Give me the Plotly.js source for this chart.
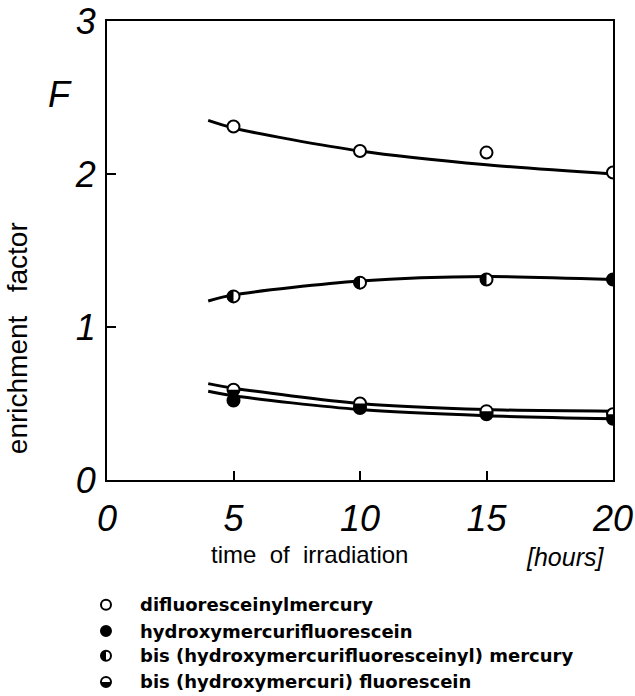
<!DOCTYPE html>
<html><head><meta charset="utf-8">
<script src="https://cdn.plot.ly/plotly-3.0.1.min.js"></script>
<style>html,body{margin:0;padding:0;background:#fff}</style>
</head><body><div id="chart" style="width:635px;height:696px"></div>
<script>
// ---- data ----
const hours = [5, 10, 15, 20];
const difluoresceinyl = [2.31, 2.15, 2.14, 2.01];      // open circles
const bisFluoresceinyl = [1.20, 1.29, 1.31, 1.31];     // left-half filled
const bisHydroxymercuri = [0.59, 0.50, 0.45, 0.43];    // bottom-half filled
const hydroxymercuri = [0.52, 0.47, 0.43, 0.40];       // filled circles

const curveHours = [4, 5, 10, 15, 20];
const difluoresceinylCurve = [2.35, 2.30, 2.15, 2.06, 2.00];
const bisFluoresceinylCurve = [1.17, 1.21, 1.30, 1.33, 1.31];
const bisHydroxymercuriCurve = [0.63, 0.60, 0.50, 0.46, 0.45];
const hydroxymercuriCurve = [0.58, 0.55, 0.46, 0.42, 0.40];

const xTicks = [0, 5, 10, 15, 20];
const yTicks = [0, 1, 2, 3];
const legendLabels = [
  'difluoresceinylmercury',
  'hydroxymercurifluorescein',
  'bis (hydroxymercurifluoresceinyl) mercury',
  'bis (hydroxymercuri) fluorescein'
];
const legendKinds = ['open', 'filled', 'left', 'bottom'];

// ---- helpers ----
const R = 6;
function halfPath(kind, r) {
  // pixel path relative to anchor (y positive up)
  const p = [];
  const n = 20;
  let a0, a1;
  if (kind === 'left') { a0 = Math.PI / 2; a1 = 3 * Math.PI / 2; }
  else { a0 = Math.PI; a1 = 2 * Math.PI; }
  for (let i = 0; i <= n; i++) {
    const a = a0 + (a1 - a0) * i / n;
    p.push((r * Math.cos(a)).toFixed(2) + ',' + (r * Math.sin(a)).toFixed(2));
  }
  return 'M' + p.join(' L') + ' Z';
}
function halfShapes(xs, ys, kind, xref, yref, r) {
  return xs.map((x, i) => ({
    type: 'path', layer: 'above', xref: xref, yref: yref,
    xsizemode: 'pixel', ysizemode: 'pixel', xanchor: x, yanchor: ys[i],
    path: halfPath(kind, r), fillcolor: '#000', line: {width: 0}
  }));
}
function circleShape(x, y, r, filled) {
  return {
    type: 'circle', layer: 'above', xref: 'paper', yref: 'paper',
    xsizemode: 'pixel', ysizemode: 'pixel', xanchor: x, yanchor: y,
    x0: -r, x1: r, y0: -r, y1: r,
    fillcolor: filled ? '#000' : '#fff', line: {color: '#000', width: 2}
  };
}

const lineStyle = {color: '#000', width: 3, shape: 'spline', smoothing: 0.8};
function curve(y) { return {x: curveHours, y: y, mode: 'lines', line: lineStyle, hoverinfo: 'skip'}; }
function pts(y, fill) {
  return {x: hours, y: y, mode: 'markers',
    marker: {symbol: 'circle', size: 2 * R, color: fill, line: {color: '#000', width: 2}}};
}

const traces = [
  curve(difluoresceinylCurve),
  curve(bisFluoresceinylCurve),
  curve(bisHydroxymercuriCurve),
  curve(hydroxymercuriCurve),
  pts(difluoresceinyl, '#fff'),
  pts(hydroxymercuri, '#000'),
  pts(bisFluoresceinyl, '#fff'),
  pts(bisHydroxymercuri, '#fff')
];

// legend placement (paper coords)
const legendY = [-0.272, -0.329, -0.383, -0.440];
const legendSymX = -0.002;
const legendTextX = 0.062;

let shapes = [];
shapes = shapes.concat(halfShapes(hours, bisFluoresceinyl, 'left', 'x', 'y', R));
shapes = shapes.concat(halfShapes(hours, bisHydroxymercuri, 'bottom', 'x', 'y', R));
legendKinds.forEach((k, i) => {
  shapes.push(circleShape(legendSymX, legendY[i], 5, k === 'filled'));
  if (k === 'left' || k === 'bottom') {
    shapes = shapes.concat(halfShapes([legendSymX], [legendY[i]], k, 'paper', 'paper', 5));
  }
});

const SANS = 'Liberation Sans, Arial, sans-serif';
const tickFont = {family: SANS, size: 36, style: 'italic', color: '#000'};
const annotations = [
  {text: 'F', xref: 'paper', yref: 'paper', x: -0.093, y: 0.84, showarrow: false,
   font: tickFont, xanchor: 'center', yanchor: 'middle'},
  {text: 'enrichment   factor', xref: 'paper', yref: 'paper', x: -0.177, y: 0.31, showarrow: false,
   textangle: -90, font: {family: SANS, size: 28, color: '#000'},
   xanchor: 'center', yanchor: 'middle'},
  {text: 'time  of  irradiation', xref: 'paper', yref: 'paper', x: 0.401, y: -0.162, showarrow: false,
   font: {family: SANS, size: 24, color: '#000'},
   xanchor: 'center', yanchor: 'middle'},
  {text: '[hours]', xref: 'paper', yref: 'paper', x: 0.905, y: -0.168, showarrow: false,
   font: {family: SANS, size: 25, style: 'italic', color: '#000'},
   xanchor: 'center', yanchor: 'middle'}
];
legendLabels.forEach((t, i) => {
  annotations.push({text: t, xref: 'paper', yref: 'paper', x: legendTextX, y: legendY[i],
    showarrow: false, xanchor: 'left', yanchor: 'middle',
    font: {family: 'DejaVu Sans, sans-serif', size: 18, weight: 'bold', color: '#000'}});
});

const layout = {
  width: 635, height: 696,
  margin: {l: 107, r: 22, t: 21, b: 216},
  paper_bgcolor: '#fff', plot_bgcolor: '#fff',
  showlegend: false,
  xaxis: {range: [0, 20], tickvals: xTicks, ticktext: xTicks.map(String),
    showline: true, mirror: true, linecolor: '#000', linewidth: 2,
    ticks: 'inside', ticklen: 9, tickwidth: 2, tickcolor: '#000',
    showgrid: false, zeroline: false, tickfont: tickFont, ticklabelstandoff: 6},
  yaxis: {range: [0, 3], tickvals: yTicks, ticktext: yTicks.map(String),
    showline: true, mirror: true, linecolor: '#000', linewidth: 2,
    ticks: 'inside', ticklen: 9, tickwidth: 2, tickcolor: '#000',
    showgrid: false, zeroline: false, tickfont: tickFont, ticklabelstandoff: 2},
  shapes: shapes,
  annotations: annotations
};

Plotly.newPlot('chart', traces, layout, {displayModeBar: false, staticPlot: true});
</script></body></html>
